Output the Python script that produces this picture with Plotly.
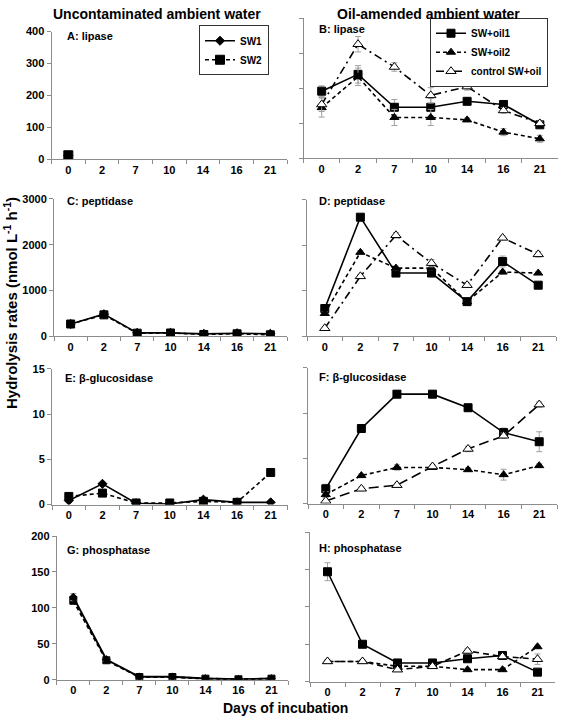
import plotly.graph_objects as go

W, H = 563, 725

days = ["0", "2", "7", "10", "14", "16", "21"]
yticks_lip = [0, 100, 200, 300, 400]
yticks_pep = [0, 1000, 2000, 3000]
yticks_glu = [0, 5, 10, 15]
yticks_pho = [0, 50, 100, 150, 200]

# ---- Uncontaminated ambient water (SW1, SW2) ----
lip_sw1 = [12, None, None, None, None, None, None]
lip_sw2 = [13, None, None, None, None, None, None]
pep_sw1 = [271, 485, 78, 78, 57, 71, 57]
pep_sw2 = [271, 470, 71, 75, 43, 57, 36]
glu_sw1 = [0.45, 2.3, 0.15, 0.07, 0.55, 0.25, 0.25]
glu_sw2 = [0.9, 1.27, 0.18, 0.18, 0.36, 0.25, 3.55]
pho_sw1 = [115, 28, 4, 4, 1.5, 0.5, 1.5]
pho_sw2 = [110, 27, 3.7, 3.7, 1.4, 0.5, 1.4]
pho_sw_err = [5, 2, 1, 1, 0.5, 0.5, 0.5]

# ---- Oil-amended ambient water ----
lip_oil1 = [192, 240, 146, 146, 163, 154, 96]
lip_oil2 = [145, 233, 117, 117, 110, 75, 56]
lip_ctl = [154, 326, 261, 180, 205, 137, 100]
lip_oil1_err = [15, 25, 22, 25, 8, 10, 8]
lip_oil2_err = [27, 25, 23, 23, 5, 10, 10]
lip_ctl_err = [20, 22, 12, 22, 10, 8, 6]

pep_oil1 = [613, 2617, 1391, 1391, 764, 1644, 1125]
pep_oil2 = [505, 1846, 1500, 1500, 764, 1413, 1391]
pep_ctl = [180, 1319, 2220, 1608, 1125, 2163, 1802]
pep_oil1_err = [40, 30, 40, 40, 30, 120, 40]
pep_oil2_err = [30, 40, 40, 40, 30, 40, 30]
pep_ctl_err = [30, 40, 60, 80, 50, 40, 60]

glu_oil1 = [1.64, 8.3, 12.1, 12.1, 10.6, 7.85, 6.84]
glu_oil2 = [1.0, 3.1, 4.0, 4.0, 3.75, 3.2, 4.2]
glu_ctl = [0.3, 1.64, 2.04, 4.1, 6.04, 7.5, 10.95]
glu_oil1_err = [0.5, 0.4, 0.4, 0.4, 0.2, 0.5, 1.1]
glu_oil2_err = [0.3, 0.2, 0.3, 0.2, 0.2, 0.6, 0.2]
glu_ctl_err = [0.2, 0.2, 0.2, 0.2, 0.3, 0.3, 0.3]

pho_oil1 = [147, 50, 25, 25, 30.6, 35, 12.7]
pho_oil2 = [27, 27, 20.5, 20.5, 16, 16, 46.7]
pho_ctl = [27, 27, 16, 20.5, 41, 33.6, 30]
pho_oil1_err = [12, 2, 2, 2, 2, 2, 2]
pho_oil2_err = [2, 2, 2, 2, 2, 2, 2]
pho_ctl_err = [2, 2, 2, 2, 3, 2, 7]

FONT = "Liberation Sans, Arial, sans-serif"
AXC = "#8c8c8c"
ERRC = "#a0a0a0"

# panel pixel boxes: (x0, x1, ytop, ybottom)
boxes = {
    1: (51.5, 287, 26, 156),
    2: (303.5, 558, 12.5, 155),
    3: (54, 287, 196, 336),
    4: (307, 556, 197, 336),
    5: (52, 287.5, 369, 507),
    6: (308, 557, 368, 506),
    7: (56.8, 288, 539, 685),
    8: (310, 555, 535, 687),
}
yranges = {1: yticks_lip, 2: yticks_lip, 3: yticks_pep, 4: yticks_pep,
           5: yticks_glu, 6: yticks_glu, 7: yticks_pho, 8: yticks_pho}

fig = go.Figure()


def ax(i):
    return ("x" if i == 1 else f"x{i}"), ("y" if i == 1 else f"y{i}")


def add(i, y, name, dash, symbol, msize, mcolor="black", err=None,
        legend=None, lw=1.6):
    xa, ya = ax(i)
    tr = dict(
        x=days, y=y, name=name, mode="lines+markers",
        line=dict(color="black", width=lw, dash=dash),
        marker=dict(symbol=symbol, size=msize, color=mcolor,
                    line=dict(color="black", width=1)),
        xaxis=xa, yaxis=ya, connectgaps=False,
        showlegend=legend is not None,
    )
    if legend is not None:
        tr["legend"] = legend
    if err is not None:
        tr["error_y"] = dict(type="data", array=err, color=ERRC,
                             thickness=1, width=3)
    fig.add_trace(go.Scatter(**tr))


DASH_SW2 = "4px,3px"
DASH_OIL2 = "4px,3px"

# A: lipase
add(1, lip_sw1, "SW1", "solid", "diamond", 7, legend="legend")
add(1, lip_sw2, "SW2", DASH_SW2, "square", 9, legend="legend")
# C: peptidase
add(3, pep_sw1, "SW1", "solid", "diamond", 7)
add(3, pep_sw2, "SW2", DASH_SW2, "square", 8)
# E: glucosidase
add(5, glu_sw1, "SW1", "solid", "diamond", 7)
add(5, glu_sw2, "SW2", DASH_SW2, "square", 8)
# G: phosphatase
add(7, pho_sw2, "SW2", DASH_SW2, "square", 7, err=pho_sw_err, lw=2)
add(7, pho_sw1, "SW1", "solid", "diamond", 6, err=pho_sw_err, lw=2)

# B: lipase
add(2, lip_oil1, "SW+oil1", "solid", "square", 8, err=lip_oil1_err, legend="legend2")
add(2, lip_oil2, "SW+oil2", DASH_OIL2, "triangle-up", 8, err=lip_oil2_err, legend="legend2")
add(2, lip_ctl, "control SW+oil", "8px,4px,2px,4px", "triangle-up", 9, mcolor="white",
    err=lip_ctl_err, legend="legend2")
# D: peptidase
add(4, pep_oil1, "SW+oil1", "solid", "square", 8, err=pep_oil1_err)
add(4, pep_oil2, "SW+oil2", DASH_OIL2, "triangle-up", 8, err=pep_oil2_err)
add(4, pep_ctl, "control SW+oil", "8px,4px,2px,4px", "triangle-up", 9, mcolor="white",
    err=pep_ctl_err)
# F: glucosidase
add(6, glu_oil1, "SW+oil1", "solid", "square", 8, err=glu_oil1_err)
add(6, glu_oil2, "SW+oil2", DASH_OIL2, "triangle-up", 8, err=glu_oil2_err)
add(6, glu_ctl, "control SW+oil", "10px,5px", "triangle-up", 9, mcolor="white",
    err=glu_ctl_err)
# H: phosphatase
add(8, pho_oil1, "SW+oil1", "solid", "square", 8, err=pho_oil1_err)
add(8, pho_oil2, "SW+oil2", DASH_OIL2, "triangle-up", 8, err=pho_oil2_err)
add(8, pho_ctl, "control SW+oil", "6px,4px", "triangle-up", 9, mcolor="white",
    err=pho_ctl_err)

tickfont = dict(family=FONT, size=11, color="black", weight="bold")
layout = dict(
    width=W, height=H, margin=dict(l=0, r=0, t=0, b=0),
    paper_bgcolor="white", plot_bgcolor="white",
    font=dict(family=FONT, color="black"),
)
for i, (x0, x1, yt, yb) in boxes.items():
    xk = "xaxis" if i == 1 else f"xaxis{i}"
    yk = "yaxis" if i == 1 else f"yaxis{i}"
    ya = "y" if i == 1 else f"y{i}"
    xa = "x" if i == 1 else f"x{i}"
    tv = yranges[i]
    layout[xk] = dict(
        domain=[x0 / W, x1 / W], anchor=ya, type="category",
        categoryorder="array", categoryarray=days, range=[-0.5, 6.5],
        showline=True, linecolor=AXC, linewidth=1, ticks="outside",
        tickson="boundaries", ticklen=4, tickcolor=AXC, showgrid=False,
        zeroline=False, tickfont=tickfont, fixedrange=True,
    )
    layout[yk] = dict(
        domain=[1 - yb / H, 1 - yt / H], anchor=xa, range=[tv[0], tv[-1]],
        tickvals=tv, showline=True, linecolor=AXC, linewidth=1,
        ticks="outside", ticklen=4, tickcolor=AXC, showgrid=False,
        zeroline=False, tickfont=tickfont, showticklabels=(i % 2 == 1),
        fixedrange=True,
    )

legfont = dict(family=FONT, size=10, color="black", weight="bold")
layout["legend"] = dict(
    x=199 / W, y=1 - 45 / H, xanchor="left", yanchor="middle",
    bordercolor="#333333", borderwidth=1, bgcolor="white", font=legfont,
    itemwidth=30, tracegroupgap=0,
)
layout["legend2"] = dict(
    x=430 / W, y=1 - 47 / H, xanchor="left", yanchor="middle",
    bordercolor="#333333", borderwidth=1, bgcolor="white", font=legfont,
    itemwidth=30, tracegroupgap=0,
)

anns = []
labels = [
    (65, 31, "A: lipase"), (317, 23, "B: lipase"),
    (65, 198, "C: peptidase"), (317, 198, "D: peptidase"),
    (63, 378, "E: β-glucosidase"), (317, 377, "F: β-glucosidase"),
    (65, 553, "G: phosphatase"), (317, 551, "H: phosphatase"),
]
for px, py, t in labels:
    anns.append(dict(x=px / W, y=1 - py / H, xref="paper", yref="paper",
                     text=t, showarrow=False, xanchor="left", yanchor="middle",
                     font=dict(family=FONT, size=11, color="black", weight="bold")))
titlefont = dict(family=FONT, size=14, color="black", weight="bold")
anns.append(dict(x=157 / W, y=1 - 8 / H, xref="paper", yref="paper",
                 text="Uncontaminated ambient water", showarrow=False,
                 xanchor="center", yanchor="middle", font=titlefont))
anns.append(dict(x=428 / W, y=1 - 8 / H, xref="paper", yref="paper",
                 text="Oil-amended ambient water", showarrow=False,
                 xanchor="center", yanchor="middle", font=titlefont))
anns.append(dict(x=285 / W, y=1 - 714 / H, xref="paper", yref="paper",
                 text="Days of incubation", showarrow=False,
                 xanchor="center", yanchor="middle", font=titlefont))
anns.append(dict(x=10 / W, y=1 - 302 / H, xref="paper", yref="paper",
                 text="Hydrolysis rates (nmol L<sup>-1</sup> h<sup>-1</sup>)",
                 showarrow=False, textangle=-90, xanchor="center",
                 yanchor="middle", font=dict(family=FONT, size=15,
                                             color="black", weight="bold")))
layout["annotations"] = anns

fig.update_layout(**layout)
fig.write_html(
    "out.html",
    config={"displayModeBar": False},
    post_script="document.body.style.margin='0';document.body.style.padding='0';",
)
